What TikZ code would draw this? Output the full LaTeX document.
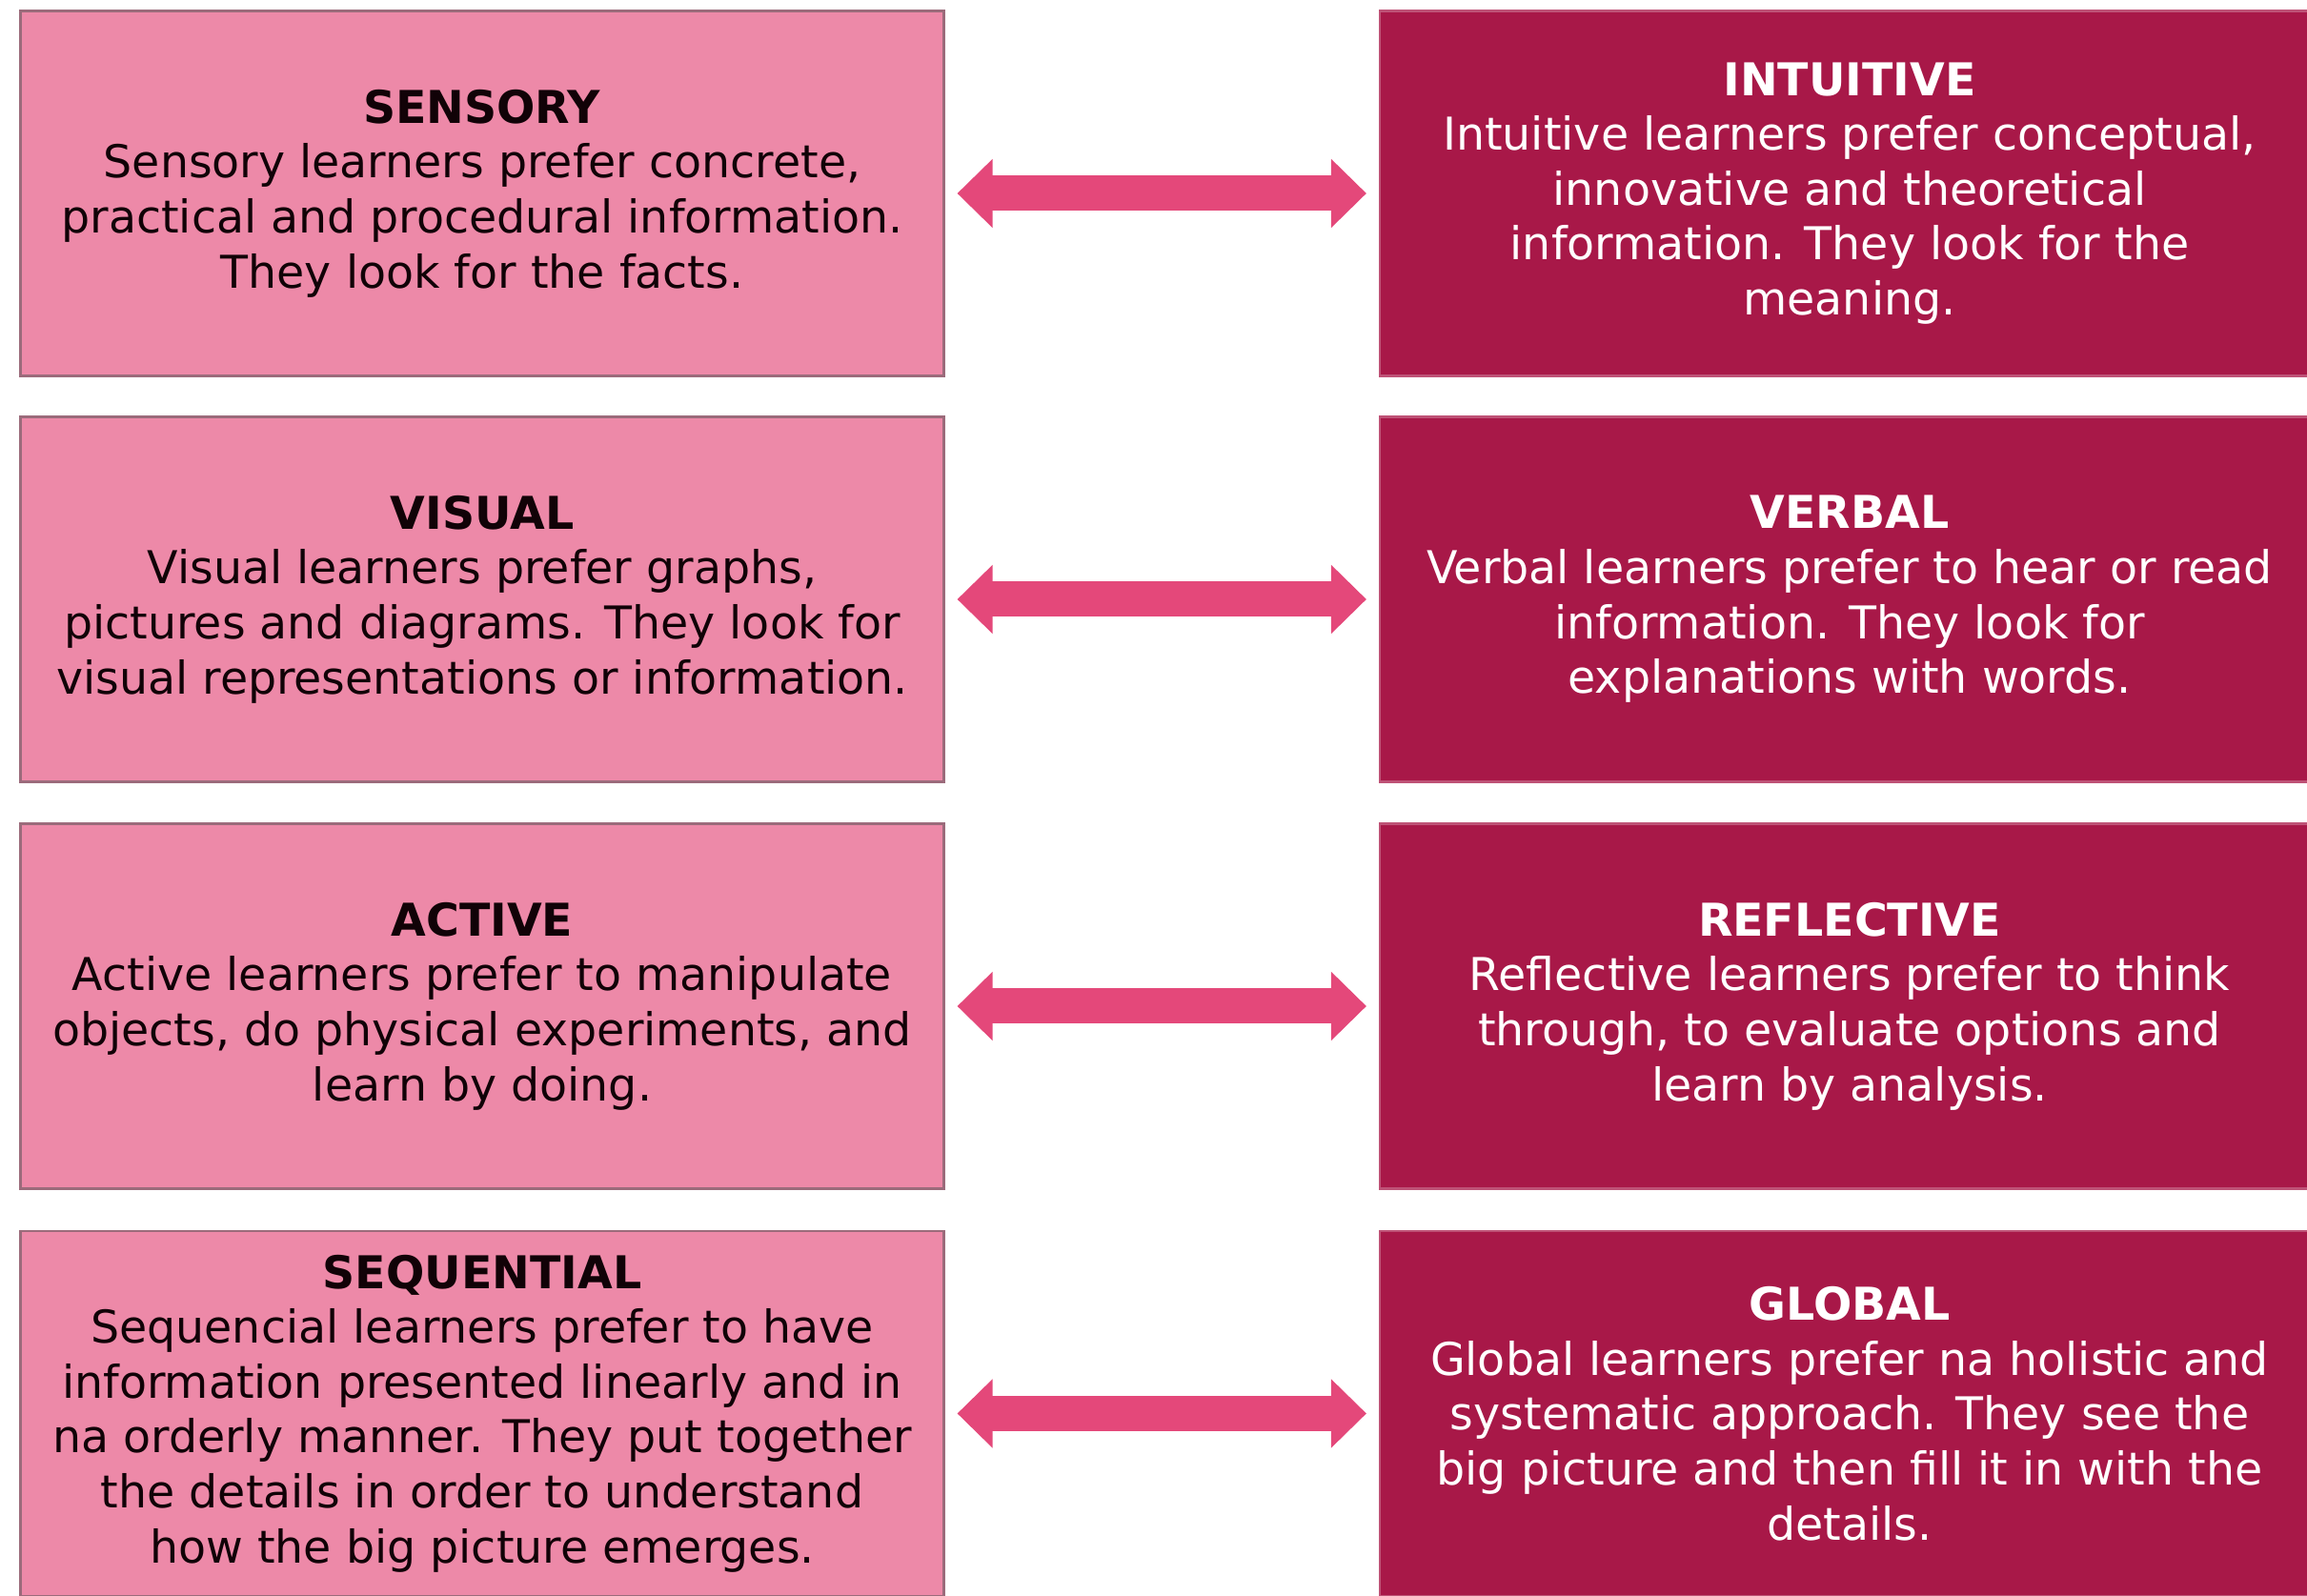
\documentclass[tikz,border=0pt]{standalone}
\usepackage{fontspec}
\setmainfont{DejaVu Sans}
\usepackage{xcolor}
\definecolor{light_pink}{RGB}{237,137,168}
\definecolor{thick_pink}{RGB}{168,24,72}
\definecolor{arrow_pink}{RGB}{228,72,122}
\definecolor{box_edge}{RGB}{155,107,123}
\usetikzlibrary{arrows.meta}

\begin{document}
\begin{tikzpicture}[
  leftbox/.style={draw=box_edge, line width=0.6pt, fill=light_pink, text=black!90!thick_pink, minimum width=9.69cm, minimum height=3.83cm, align=center, font=\fontsize{13.5}{16.4}\selectfont},
  rightbox/.style={draw=thick_pink!75!white, line width=0.6pt, fill=thick_pink, text=white, minimum width=9.86cm, minimum height=3.83cm, align=center, font=\fontsize{13.5}{16.4}\selectfont},
  twoway/.style={line width=0.37cm, draw=arrow_pink, {Triangle[length=0.37cm,width=0.7cm]}-{Triangle[length=0.37cm,width=0.7cm]}, shorten <=0.13cm, shorten >=0.13cm}]
\useasboundingbox (0,0) rectangle (24.21,16.75);

\node (sensory) at (5.06, 14.72) [leftbox] {\textbf{SENSORY}\\Sensory learners prefer concrete,\\practical and procedural information.\\They look for the facts.};
\node (intuitive) at (19.41, 14.72) [rightbox] {\textbf{INTUITIVE}\\Intuitive learners prefer conceptual,\\innovative and theoretical\\information. They look for the\\meaning.};
\draw [twoway] (sensory.east) -- (intuitive.west);

\node (visual) at (5.06, 10.46) [leftbox] {\textbf{VISUAL}\\Visual learners prefer graphs,\\pictures and diagrams. They look for\\visual representations or information.};
\node (verbal) at (19.41, 10.46) [rightbox] {\textbf{VERBAL}\\Verbal learners prefer to hear or read\\information. They look for\\explanations with words.};
\draw [twoway] (visual.east) -- (verbal.west);

\node (active) at (5.06, 6.19) [leftbox] {\textbf{ACTIVE}\\Active learners prefer to manipulate\\objects, do physical experiments, and\\learn by doing.};
\node (reflective) at (19.41, 6.19) [rightbox] {\textbf{REFLECTIVE}\\Reflective learners prefer to think\\through, to evaluate options and\\learn by analysis.};
\draw [twoway] (active.east) -- (reflective.west);

\node (sequential) at (5.06, 1.915) [leftbox] {\textbf{SEQUENTIAL}\\Sequencial learners prefer to have\\information presented linearly and in\\na orderly manner. They put together\\the details in order to understand\\how the big picture emerges.};
\node (global) at (19.41, 1.915) [rightbox] {\textbf{GLOBAL}\\Global learners prefer na holistic and\\systematic approach. They see the\\big picture and then fill it in with the\\details.};
\draw [twoway] (sequential.east) -- (global.west);

\end{tikzpicture}
\end{document}
